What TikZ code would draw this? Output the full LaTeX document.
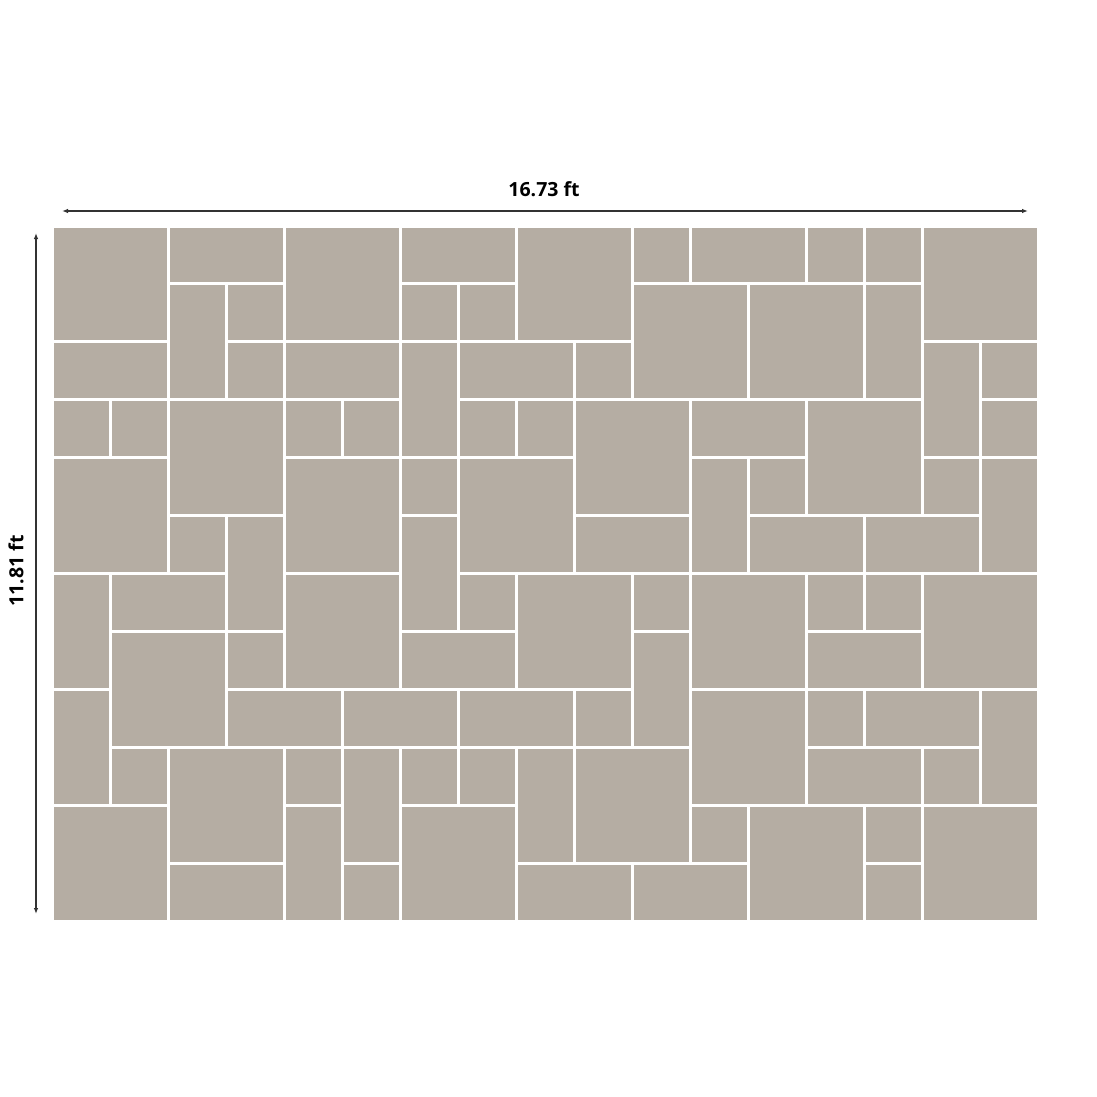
\documentclass[tikz,border=0pt]{standalone}
\usepackage{fontspec}
\setmainfont{Open Sans}
\usetikzlibrary{arrows.meta}
\definecolor{tilegray}{HTML}{B5ADA3}
\definecolor{dimgray}{HTML}{333333}
\tikzset{
  tile/.style={fill=tilegray},
  dimline/.style={draw=dimgray, line width=1.1pt, {Latex[length=6pt,width=4.5pt]}-{Latex[length=6pt,width=4.5pt]}},
  dimlabel/.style={font=\fontsize{19.5}{22}\selectfont\bfseries, text=black, inner sep=0pt}
}
\begin{document}
\begin{tikzpicture}[x=1pt,y=-1pt]
\useasboundingbox[fill=white] (0,0) rectangle (1096,1097);
\def\X{52}\def\Y{226}\def\sx{58.03}\def\sy{57.96}\def\g{1.5}
\foreach \c/\r/\w/\h in {
 0/0/2/2, 2/0/2/1, 4/0/2/2, 6/0/2/1, 8/0/2/2, 10/0/1/1, 11/0/2/1, 13/0/1/1, 14/0/1/1, 15/0/2/2,
 2/1/1/2, 3/1/1/1, 6/1/1/1, 7/1/1/1, 10/1/2/2, 12/1/2/2, 14/1/1/2,
 0/2/2/1, 3/2/1/1, 4/2/2/1, 6/2/1/2, 7/2/2/1, 9/2/1/1, 15/2/1/2, 16/2/1/1,
 0/3/1/1, 1/3/1/1, 2/3/2/2, 4/3/1/1, 5/3/1/1, 7/3/1/1, 8/3/1/1, 9/3/2/2, 11/3/2/1, 13/3/2/2, 16/3/1/1,
 0/4/2/2, 4/4/2/2, 6/4/1/1, 7/4/2/2, 11/4/1/2, 12/4/1/1, 15/4/1/1, 16/4/1/2,
 2/5/1/1, 3/5/1/2, 6/5/1/2, 9/5/2/1, 12/5/2/1, 14/5/2/1,
 0/6/1/2, 1/6/2/1, 4/6/2/2, 7/6/1/1, 8/6/2/2, 10/6/1/1, 11/6/2/2, 13/6/1/1, 14/6/1/1, 15/6/2/2,
 1/7/2/2, 3/7/1/1, 6/7/2/1, 10/7/1/2, 13/7/2/1,
 0/8/1/2, 3/8/2/1, 5/8/2/1, 7/8/2/1, 9/8/1/1, 11/8/2/2, 13/8/1/1, 14/8/2/1, 16/8/1/2,
 1/9/1/1, 2/9/2/2, 4/9/1/1, 5/9/1/2, 6/9/1/1, 7/9/1/1, 8/9/1/2, 9/9/2/2, 13/9/2/1, 15/9/1/1,
 0/10/2/2, 4/10/1/2, 6/10/2/2, 11/10/1/1, 12/10/2/2, 14/10/1/1, 15/10/2/2,
 2/11/2/1, 5/11/1/1, 8/11/2/1, 10/11/2/1, 14/11/1/1}
 {
  \fill[tile] ({\X+\c*\sx+\g},{\Y+\r*\sy+\g}) rectangle ({\X+(\c+\w)*\sx-\g},{\Y+(\r+\h)*\sy-\g});
 }
% dimension lines
\coordinate (hL) at (62,211);
\coordinate (hR) at (1028,211);
\coordinate (vT) at (36,233);
\coordinate (vB) at (36,914);
\draw[dimline] (hL) -- (hR);
\draw[dimline] (vT) -- (vB);
\node[dimlabel] (wlabel) at (544,189) {16.73 ft};
\node[dimlabel, rotate=90] (hlabel) at (16,571) {11.81 ft};
\end{tikzpicture}
\end{document}
